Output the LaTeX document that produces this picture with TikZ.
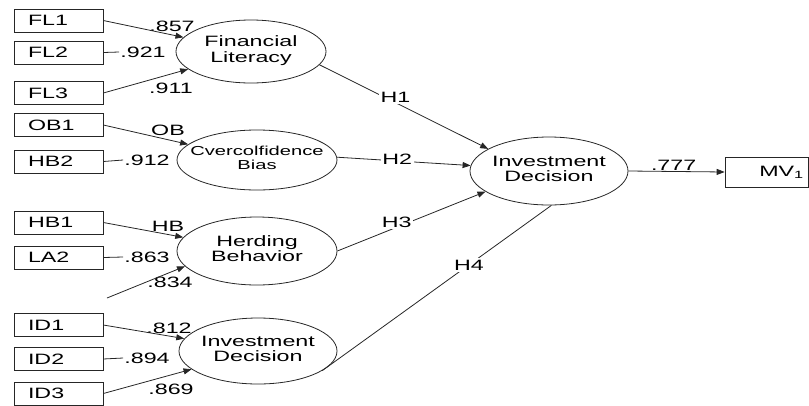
\documentclass[tikz,border=0pt]{standalone}
\usepackage{fontspec}
\setmainfont{Liberation Sans}
\usepackage{graphicx}
\usetikzlibrary{shapes.geometric, arrows.meta, positioning, calc}

% the source figure is stretched sideways, so its lettering is too
\newcommand{\wide}[1]{\scalebox{1.55}[1]{#1}}
\newcommand{\twolines}[2]{\scalebox{1.55}[1]{\begin{tabular}{@{}c@{}}#1\\#2\end{tabular}}}

\begin{document}
\begin{tikzpicture}[
  x=1pt, y=-1pt,
  font=\fontsize{15}{15.5}\selectfont,
  indbox/.style={draw=black!85, line width=0.7pt, minimum height=23pt, text width=61pt,
                 inner xsep=14pt, inner ysep=0pt, align=left},
  latent/.style={ellipse, draw=black!85, line width=0.8pt, inner xsep=-12pt, inner ysep=0pt,
                 align=center},
  pline/.style={draw=black!85, line width=0.8pt},
  parr/.style={pline, -{Triangle[length=8pt,width=6pt]}},
  lab/.style={inner sep=1pt},
  hlab/.style={fill=white, inner sep=1.5pt}
]
\useasboundingbox (0,0) rectangle (809,405);

%--------------------------------------------------------------
% Indicatori (colonna di sinistra)
%--------------------------------------------------------------
\node[indbox] (fl1) at (58.5,20.5)  {\wide{FL1}};
\node[indbox] (fl2) at (58.5,52.5)  {\wide{FL2}};
\node[indbox] (fl3) at (58.5,93)    {\wide{FL3}};
\node[indbox] (ob1) at (58.5,125)   {\wide{OB1}};
\node[indbox] (hb2) at (58.5,161.5) {\wide{HB2}};
\node[indbox] (hb1) at (58.5,222.5) {\wide{HB1}};
\node[indbox] (la2) at (58.5,257.5) {\wide{LA2}};
\node[indbox] (id1) at (58.5,325)   {\wide{ID1}};
\node[indbox] (id2) at (58.5,359)   {\wide{ID2}};
\node[indbox] (id3) at (58.5,393.5) {\wide{ID3}};
\coordinate (hbfree) at (107,298);

%--------------------------------------------------------------
% Costrutti latenti
%--------------------------------------------------------------
\node[latent, minimum width=150pt, minimum height=63pt] (fl) at (251,51.5)
  {\twolines{Financial}{Literacy}};
\node[latent, minimum width=160pt, minimum height=60pt] (ob) at (257,160)
  {\fontsize{13}{14}\selectfont\twolines{Cvercolfidence}{Bias}};
\node[latent, minimum width=160pt, minimum height=68pt] (hb) at (257,251)
  {\twolines{Herding}{Behavior}};
\node[latent, minimum width=158pt, minimum height=66pt] (idl) at (258,351)
  {\twolines{Investment}{Decision}};
\node[latent, minimum width=158pt, minimum height=68pt] (idm) at (549,171)
  {\twolines{Investment}{Decision}};

\node[draw=black!85, line width=0.7pt, minimum height=30pt, text width=75pt,
      inner xsep=4pt, inner ysep=0pt, align=right] (mv) at (766.5,172)
  {\wide{MV\textsubscript{1}}};

%--------------------------------------------------------------
% Carichi
%--------------------------------------------------------------
\node[lab] (l857) at (172,26)  {\wide{.857}};
\node[lab] (l921) at (143,52)  {\wide{.921}};
\node[lab] (l911) at (171,88)  {\wide{.911}};
\node[lab] (lob)  at (168,130) {\wide{OB}};
\node[lab] (l912) at (147,160) {\wide{.912}};
\node[lab] (lhb)  at (168,226) {\wide{HB}};
\node[lab] (l863) at (147,257) {\wide{.863}};
\node[lab] (l834) at (170,282) {\wide{.834}};
\node[lab] (l812) at (169,328) {\wide{.812}};
\node[lab] (l894) at (147,358) {\wide{.894}};
\node[lab] (l869) at (171,389) {\wide{.869}};

\draw[parr]  (fl1.east) -- (fl);
\draw[pline] (fl2.east) -- (l921.west);
\draw[parr]  (fl3.east) -- (fl);
\draw[parr]  (ob1.east) -- (ob);
\draw[pline] (hb2.east) -- (l912.west);
\draw[parr]  (hb1.east) -- (hb);
\draw[pline] (la2.east) -- (l863.west);
\draw[parr]  (hbfree) -- (hb.192);
\draw[parr]  (id1.east) -- (idl);
\draw[pline] (id2.east) -- (l894.west);
\draw[parr]  (id3.east) -- (idl);

%--------------------------------------------------------------
% Ipotesi
%--------------------------------------------------------------
\draw[parr] (fl.-11) -- node[hlab, pos=0.45, yshift=5pt] {\wide{H1}} (idm.160);
\draw[parr] (ob.2) -- node[hlab, pos=0.45, yshift=2pt] {\wide{H2}} (idm.176);
\draw[parr] (hb.east) -- node[hlab, pos=0.4, yshift=5pt] {\wide{H3}} (idm.-162);
\draw[pline] (idl.-17) -- node[hlab, pos=0.64] {\wide{H4}} (idm.-86);

\draw[parr] (idm.east) -- node[lab, above, pos=0.47] {\wide{.777}} (mv.west);

\end{tikzpicture}
\end{document}
